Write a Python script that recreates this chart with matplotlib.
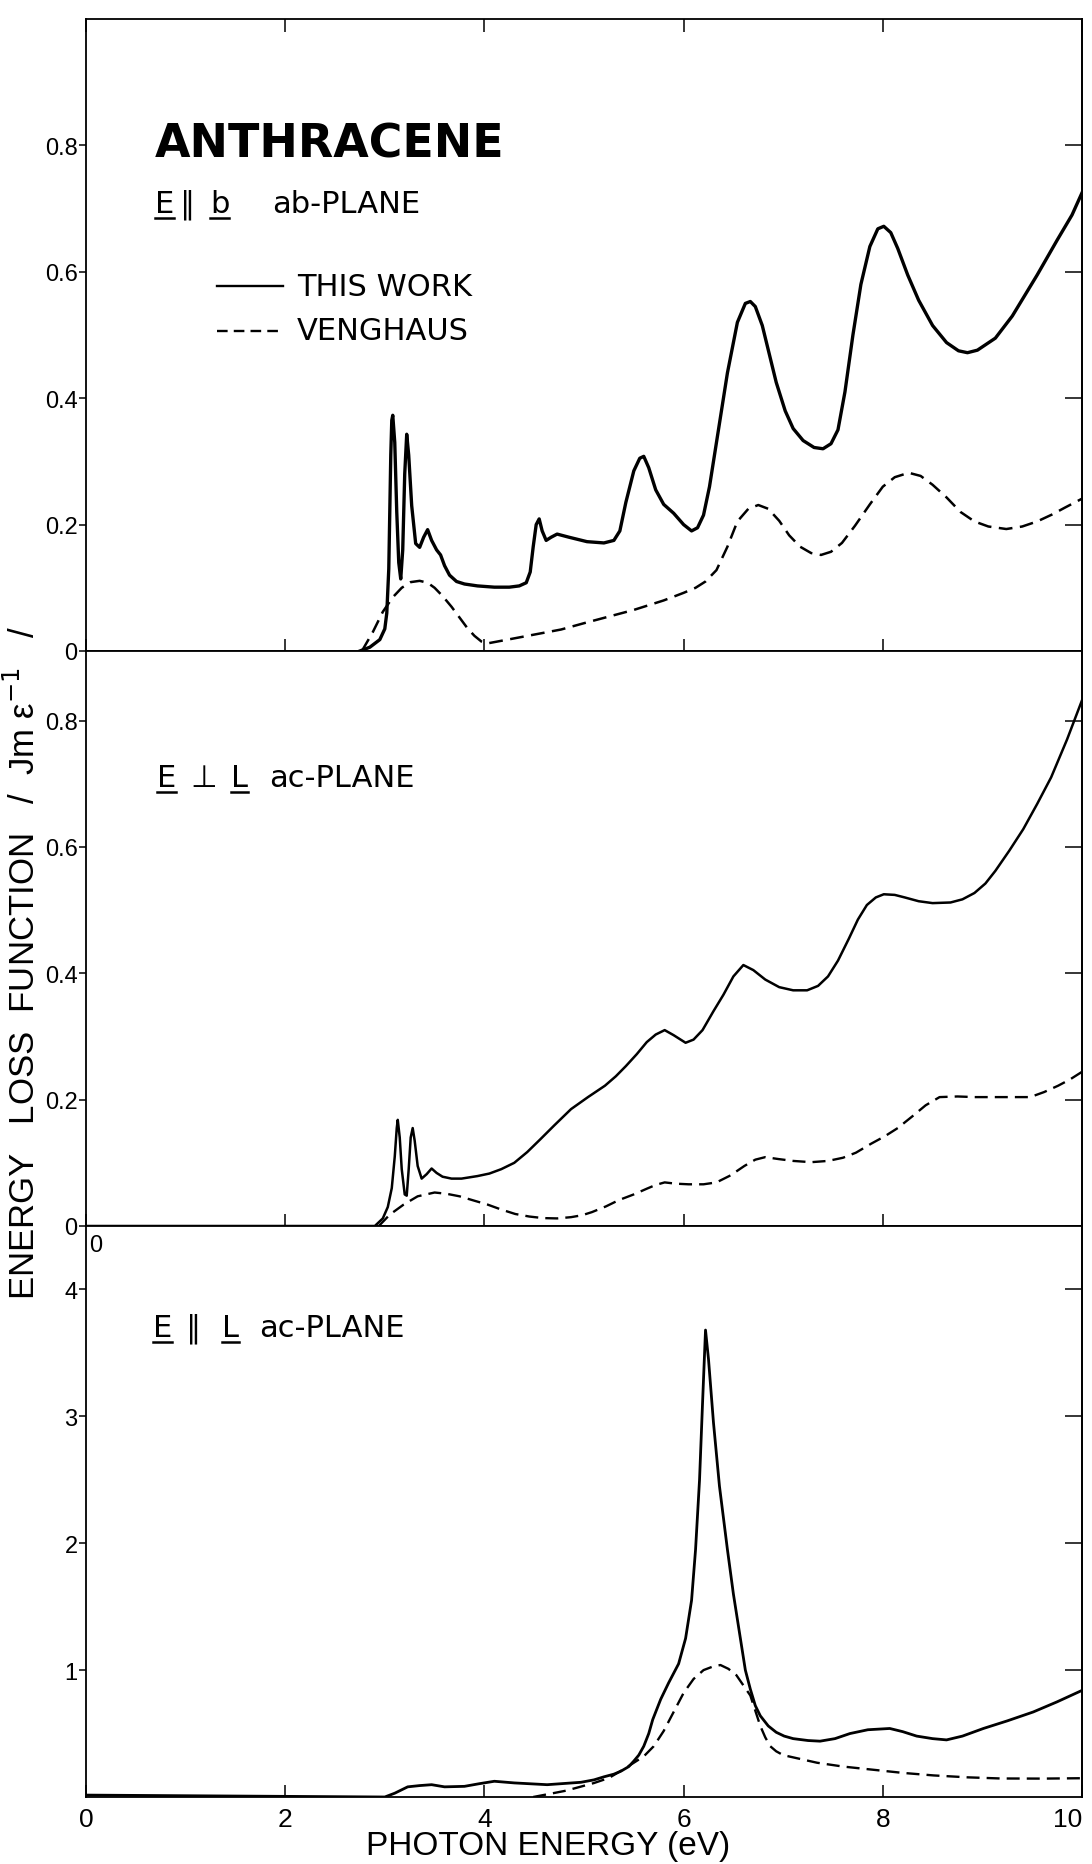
import matplotlib
matplotlib.use("Agg")
import matplotlib.pyplot as plt
from matplotlib.lines import Line2D

plt.rcParams['font.family'] = ['DejaVu Sans']

# ---- data (photon energy in eV, loss function) ----
# ab-plane, E || b
ab_work_e = [2.75, 2.85, 2.95, 3.00, 3.02, 3.04, 3.05, 3.06, 3.07, 3.08, 3.10, 3.12, 3.14, 3.16,
             3.18, 3.20, 3.22, 3.24, 3.27, 3.31, 3.35, 3.39, 3.43, 3.47, 3.52, 3.56, 3.60, 3.65,
             3.72, 3.80, 3.93, 4.10, 4.25, 4.35, 4.42, 4.46, 4.49, 4.52, 4.55, 4.58, 4.62, 4.67,
             4.73, 4.85, 5.03, 5.20, 5.30, 5.36, 5.42, 5.50, 5.56, 5.60, 5.65, 5.72, 5.80, 5.90,
             6.00, 6.08, 6.14, 6.20, 6.26, 6.34, 6.44, 6.54, 6.62, 6.67, 6.72, 6.79, 6.86, 6.93,
             7.02, 7.10, 7.20, 7.31, 7.40, 7.48, 7.55, 7.62, 7.70, 7.78, 7.87, 7.95, 8.01, 8.08,
             8.15, 8.25, 8.36, 8.50, 8.64, 8.76, 8.85, 8.95, 9.13, 9.30, 9.55, 9.75, 9.90, 10.0]
ab_work_v = [0.0, 0.006, 0.018, 0.035, 0.06, 0.13, 0.22, 0.31, 0.365, 0.373, 0.33, 0.22, 0.14, 0.114,
             0.16, 0.28, 0.343, 0.31, 0.23, 0.17, 0.164, 0.18, 0.192, 0.175, 0.16, 0.152, 0.135, 0.12,
             0.11, 0.106, 0.103, 0.101, 0.101, 0.103, 0.108, 0.125, 0.165, 0.2, 0.209, 0.19, 0.175, 0.18,
             0.185, 0.18, 0.173, 0.171, 0.175, 0.19, 0.235, 0.285, 0.305, 0.308, 0.29, 0.255, 0.232, 0.218,
             0.2, 0.19, 0.195, 0.215, 0.26, 0.34, 0.44, 0.52, 0.55, 0.553, 0.545, 0.515, 0.47, 0.425,
             0.38, 0.352, 0.333, 0.322, 0.32, 0.328, 0.35, 0.41, 0.5, 0.58, 0.64, 0.668, 0.672, 0.662,
             0.637, 0.595, 0.555, 0.515, 0.488, 0.475, 0.472, 0.476, 0.495, 0.53, 0.595, 0.65, 0.69, 0.725]

ab_veng_e = [2.77, 2.88, 2.98, 3.08, 3.17, 3.26, 3.35, 3.43, 3.50, 3.58, 3.67, 3.75, 3.83, 3.90,
             3.97, 4.03, 4.30, 4.77, 5.00, 5.50, 5.80, 6.00, 6.12, 6.22, 6.33, 6.44, 6.54, 6.65,
             6.75, 6.85, 6.96, 7.06, 7.17, 7.28, 7.38, 7.48, 7.59, 7.72, 7.87, 8.00, 8.12, 8.26,
             8.38, 8.50, 8.64, 8.78, 8.92, 9.06, 9.24, 9.40, 9.55, 9.70, 9.83, 10.0]
ab_veng_v = [0.0, 0.03, 0.062, 0.085, 0.1, 0.109, 0.111, 0.108, 0.1, 0.087, 0.07, 0.053, 0.036, 0.024,
             0.015, 0.012, 0.02, 0.034, 0.044, 0.065, 0.08, 0.092, 0.1, 0.11, 0.128, 0.165, 0.205, 0.225,
             0.231, 0.225, 0.206, 0.183, 0.165, 0.155, 0.152, 0.157, 0.171, 0.198, 0.232, 0.26, 0.275, 0.282,
             0.277, 0.263, 0.243, 0.22, 0.205, 0.197, 0.193, 0.197, 0.205, 0.216, 0.227, 0.241]

# ac-plane, E perpendicular to L
perp_work_e = [0.0, 2.0, 2.9, 2.98, 3.03, 3.07, 3.10, 3.12, 3.13, 3.15, 3.17, 3.20, 3.22, 3.24,
               3.26, 3.28, 3.30, 3.33, 3.37, 3.42, 3.47, 3.52, 3.58, 3.67, 3.77, 3.93, 4.05, 4.17,
               4.30, 4.43, 4.56, 4.70, 4.87, 5.04, 5.21, 5.32, 5.42, 5.53, 5.63, 5.72, 5.81, 5.90,
               6.02, 6.10, 6.19, 6.30, 6.40, 6.50, 6.60, 6.70, 6.82, 6.96, 7.10, 7.24, 7.35, 7.45,
               7.55, 7.66, 7.75, 7.84, 7.93, 8.01, 8.12, 8.22, 8.36, 8.50, 8.68, 8.80, 8.92, 9.03,
               9.13, 9.27, 9.41, 9.55, 9.69, 9.85, 10.0]
perp_work_v = [0.0, 0.0, 0.0, 0.012, 0.03, 0.06, 0.11, 0.155, 0.168, 0.14, 0.09, 0.05, 0.048, 0.09,
               0.14, 0.155, 0.135, 0.095, 0.075, 0.082, 0.091, 0.084, 0.078, 0.075, 0.075, 0.079, 0.083, 0.09,
               0.1, 0.117, 0.137, 0.159, 0.185, 0.204, 0.222, 0.237, 0.253, 0.272, 0.291, 0.303, 0.31, 0.302,
               0.29, 0.295, 0.31, 0.34, 0.366, 0.395, 0.413, 0.405, 0.39, 0.378, 0.373, 0.373, 0.38, 0.395,
               0.42, 0.455, 0.485, 0.508, 0.52, 0.525, 0.524, 0.52, 0.514, 0.511, 0.512, 0.517, 0.527, 0.542,
               0.562, 0.594, 0.628, 0.668, 0.71, 0.77, 0.832]

perp_veng_e = [2.94, 3.05, 3.19, 3.33, 3.50, 3.62, 3.75, 3.90, 4.03, 4.17, 4.31, 4.45, 4.59, 4.73,
               4.87, 4.98, 5.08, 5.22, 5.35, 5.50, 5.63, 5.72, 5.81, 5.92, 6.05, 6.20, 6.33, 6.47,
               6.61, 6.72, 6.82, 6.95, 7.10, 7.28, 7.45, 7.60, 7.73, 7.88, 8.02, 8.15, 8.30, 8.43,
               8.57, 8.75, 8.92, 9.20, 9.48, 9.62, 9.76, 9.88, 10.0]
perp_veng_v = [0.0, 0.018, 0.034, 0.047, 0.053, 0.051, 0.047, 0.04, 0.034, 0.026, 0.019, 0.015, 0.0125, 0.012,
               0.014, 0.017, 0.022, 0.031, 0.041, 0.05, 0.059, 0.065, 0.069, 0.067, 0.066, 0.066, 0.069, 0.08,
               0.095, 0.105, 0.109, 0.106, 0.103, 0.101, 0.103, 0.108, 0.116, 0.13, 0.142, 0.155, 0.174, 0.191,
               0.204, 0.205, 0.204, 0.204, 0.204, 0.212, 0.222, 0.232, 0.244]

# ac-plane, E || L
par_work_e = [0.0, 1.0, 2.0, 3.0, 3.1, 3.23, 3.35, 3.47, 3.60, 3.80, 3.95, 4.10, 4.30, 4.63,
              4.97, 5.10, 5.20, 5.30, 5.37, 5.45, 5.50, 5.55, 5.60, 5.65, 5.69, 5.73, 5.77, 5.85,
              5.95, 6.02, 6.08, 6.12, 6.16, 6.19, 6.22, 6.25, 6.30, 6.36, 6.44, 6.50, 6.57, 6.62,
              6.67, 6.72, 6.77, 6.85, 6.93, 7.01, 7.10, 7.25, 7.37, 7.52, 7.67, 7.85, 8.07, 8.20,
              8.34, 8.50, 8.64, 8.80, 9.01, 9.25, 9.51, 9.75, 10.0]
par_work_v = [0.015, 0.01, 0.005, 0.0, 0.03, 0.08, 0.09, 0.097, 0.08, 0.084, 0.105, 0.124, 0.111, 0.097,
              0.116, 0.135, 0.159, 0.18, 0.203, 0.24, 0.283, 0.33, 0.40, 0.5, 0.61, 0.69, 0.77, 0.9,
              1.05, 1.25, 1.55, 1.95, 2.5, 3.1, 3.68, 3.45, 2.95, 2.45, 1.95, 1.6, 1.25, 1.0,
              0.85, 0.72, 0.64, 0.56, 0.51, 0.48, 0.46, 0.445, 0.44, 0.46, 0.5, 0.53, 0.54, 0.515,
              0.48, 0.46, 0.45, 0.48, 0.54, 0.6, 0.67, 0.75, 0.84]

par_veng_e = [4.49, 4.69, 4.82, 4.96, 5.10, 5.25, 5.40, 5.50, 5.60, 5.70, 5.80, 5.90, 6.00, 6.10,
              6.20, 6.30, 6.37, 6.45, 6.53, 6.60, 6.67, 6.72, 6.77, 6.82, 6.87, 6.93, 7.00, 7.17,
              7.34, 7.60, 7.84, 8.20, 8.51, 8.85, 9.18, 9.60, 10.0]
par_veng_v = [0.0, 0.03, 0.05, 0.08, 0.11, 0.15, 0.22, 0.27, 0.32, 0.40, 0.52, 0.67, 0.82, 0.93,
              1.0, 1.03, 1.04, 1.01, 0.96, 0.88, 0.80, 0.68, 0.56, 0.47, 0.40, 0.36, 0.33, 0.30,
              0.27, 0.24, 0.22, 0.19, 0.17, 0.155, 0.146, 0.145, 0.148]

x_ticks = [0, 2, 4, 6, 8, 10]
x_labels = ['0', '2', '4', '6', '8', '10']
small_ticks = [0, 0.2, 0.4, 0.6, 0.8]
small_labels = ['0', '0.2', '0.4', '0.6', '0.8']
big_ticks = [1, 2, 3, 4]
big_labels = ['1', '2', '3', '4']

W, H = 1092, 1865
LEFT, RIGHT = 86, 1082
TICKFONT = ['Liberation Sans', 'DejaVu Sans']
LABFONT = ['Liberation Sans', 'DejaVu Sans']

fig = plt.figure(figsize=(W / 100, H / 100), dpi=100)


def rect(top, bottom):
    return [LEFT / W, 1 - bottom / H, (RIGHT - LEFT) / W, (bottom - top) / H]


def fx(x):
    return x / W


def fy(y):
    return 1 - y / H


def setup(ax, ymax, yt, yl, top=False, xlabels=False):
    ax.set_xlim(0, 10)
    ax.set_ylim(0, ymax)
    ax.set_xticks(x_ticks, x_labels)
    ax.tick_params(axis='x', direction='in', length=9, width=1.1, top=top, bottom=True,
                   labelbottom=xlabels, pad=7)
    ax.set_yticks(yt, yl)
    ax.tick_params(axis='y', direction='out', length=5, width=1.1, pad=1)
    for lab in ax.get_xticklabels():
        lab.set_family(TICKFONT)
        lab.set_fontsize(19)
    for lab in ax.get_yticklabels():
        lab.set_family(TICKFONT)
        lab.set_fontsize(17)
    if xlabels:
        ax.get_xticklabels()[-1].set_horizontalalignment('right')
    for s in ax.spines.values():
        s.set_linewidth(1.3)
    sec = ax.secondary_yaxis('right')
    sec.set_yticks(yt)
    sec.tick_params(direction='in', length=12, width=1.1, labelright=False)
    sec.spines['right'].set_linewidth(1.3)


ax1 = fig.add_axes(rect(20, 652))
ax2 = fig.add_axes(rect(652, 1227))
ax3 = fig.add_axes(rect(1227, 1798))

setup(ax1, 1.0, small_ticks, small_labels, top=True)
setup(ax2, 0.91, small_ticks, small_labels)
setup(ax3, 4.5, big_ticks, big_labels, xlabels=True)

dash = (5.5, 3)
ax1.plot(ab_work_e, ab_work_v, color='black', lw=2.4, solid_joinstyle='round')
ax1.plot(ab_veng_e, ab_veng_v, color='black', lw=1.8, dashes=dash)
ax2.plot(perp_work_e, perp_work_v, color='black', lw=1.8, solid_joinstyle='round')
ax2.plot(perp_veng_e, perp_veng_v, color='black', lw=1.7, dashes=dash)
ax3.plot(par_work_e, par_work_v, color='black', lw=2.0, solid_joinstyle='round')
ax3.plot(par_veng_e, par_veng_v, color='black', lw=1.7, dashes=dash)

# titles and panel labels
fig.text(fx(155), fy(157), 'ANTHRACENE', fontsize=33, fontweight='bold', va='baseline')

underlined = []


def panel_label(pieces, base):
    for x, s, ul in pieces:
        t = fig.text(fx(x), fy(base), s, fontsize=22, va='baseline')
        if ul:
            underlined.append((t, base))


panel_label([(155, 'E', True), (180, '\u2225', False), (210, 'b', True), (272, 'ab-PLANE', False)], 213)
panel_label([(157, 'E', True), (190, '\u22a5', False), (231, 'L', True), (269, 'ac-PLANE', False)], 787)
panel_label([(153, 'E', True), (186, '\u2225', False), (222, 'L', True), (259, 'ac-PLANE', False)], 1337)

# legend
fig.add_artist(Line2D([fx(217), fx(283)], [fy(287), fy(287)], color='black', lw=1.7))
fig.add_artist(Line2D([fx(217), fx(283)], [fy(332), fy(332)], color='black', lw=1.7, dashes=(4.5, 2.6)))
fig.text(fx(297), fy(287), 'THIS WORK', fontsize=22, va='center')
fig.text(fx(297), fy(332), 'VENGHAUS', fontsize=22, va='center')

# stray zero under the middle panel
fig.text(fx(89), fy(1235), '0', fontsize=17, va='top', family=TICKFONT)

# axis titles
fig.text(fx(24), fy(963), 'ENERGY   LOSS  FUNCTION   /  Jm \u03b5$^{-1}$   /', rotation=90,
         ha='center', va='center', fontsize=25, family=LABFONT)
fig.text(fx(548), fy(1847), 'PHOTON ENERGY (eV)', ha='center', va='center', fontsize=24,
         family=LABFONT)

# underline marks below E, b and L
fig.canvas.draw()
rend = fig.canvas.get_renderer()
for t, base in underlined:
    bb = t.get_window_extent(rend)
    fig.add_artist(Line2D([bb.x0 / W, bb.x1 / W], [fy(base + 6), fy(base + 6)],
                          color='black', lw=1.8))

fig.savefig('out.png', dpi=100)
